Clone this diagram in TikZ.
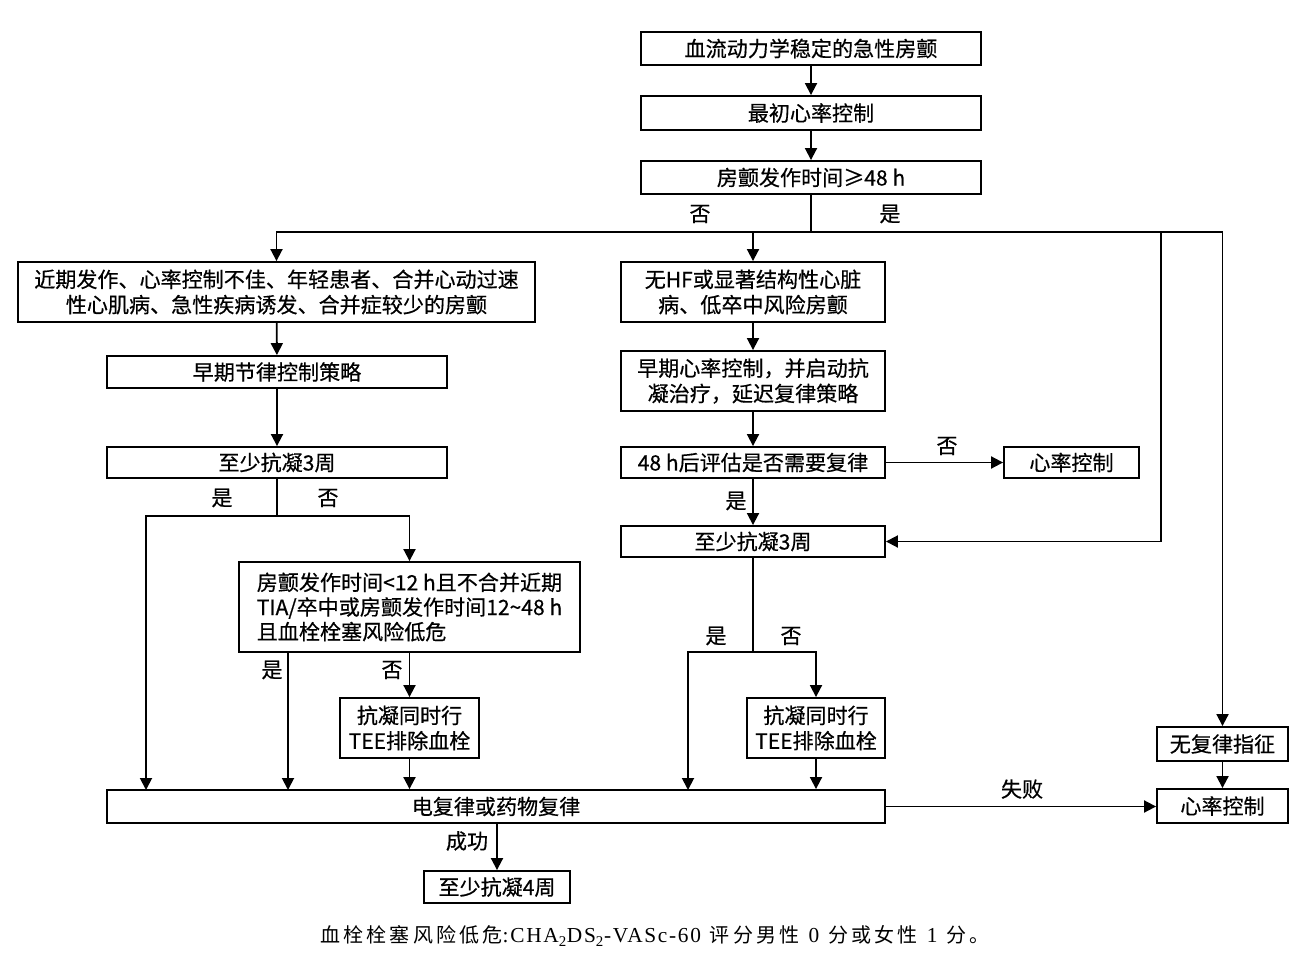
\documentclass[tikz,border=0pt]{standalone}
\usepackage{fontspec}
\setmainfont[FakeBold=0.5]{Noto Sans CJK SC}
\newfontfamily\capcjk[LetterSpace=16]{Noto Sans CJK SC}
\newfontfamily\capserif[LetterSpace=8]{Liberation Serif}
\usetikzlibrary{arrows.meta}
\tikzset{
  box/.style={draw, line width=1.4pt, inner sep=0pt, align=center, font=\fontsize{15.8}{19}\selectfont},
  lbl/.style={inner sep=0pt, font=\fontsize{15.8}{19}\selectfont},
  ln/.style={line width=1.4pt},
  arr/.style={line width=1.4pt, -{Triangle[length=9pt,width=9pt]}},
}
\newcommand\bx[7][]{\node[box,#1, minimum width={(#5-#3)*0.75pt}, minimum height={(#6-#4)*0.75pt}] (#2) at ({(#3+#5)/2},{(#4+#6)/2}) {#7};}
\newcommand\lat[1]{{\capserif\fontsize{16}{19}\selectfont #1}}
\begin{document}
\begin{tikzpicture}[x=0.75pt,y=-0.75pt]
\useasboundingbox (0,0) rectangle (1313,955);
% boxes
\bx{n1}{641}{32}{981}{65}{血流动力学稳定的急性房颤}
\bx{n2}{641}{96}{981}{130}{最初心率控制}
\bx{n3}{641}{161}{981}{194}{房颤发作时间≥48 h}
\bx{n4}{18}{262}{535}{322}{近期发作、心率控制不佳、年轻患者、合并心动过速\\性心肌病、急性疾病诱发、合并症较少的房颤}
\bx{n5}{107}{356}{447}{388}{早期节律控制策略}
\bx{n6}{107}{447}{447}{478}{至少抗凝3周}
\bx[align=left, font=\fontsize{15.8}{18.5}\selectfont]{n7}{239}{562}{580}{652}{房颤发作时间<12 h且不合并近期\\TIA/卒中或房颤发作时间12\textasciitilde 48 h\\且血栓栓塞风险低危}
\bx{n8}{340}{698}{479}{758}{抗凝同时行\\TEE排除血栓}
\bx{n9}{107}{790}{885}{823}{电复律或药物复律}
\bx{n10}{1157}{789}{1288}{823}{心率控制}
\bx{n11}{621}{262}{885}{322}{无HF或显著结构性心脏\\病、低卒中风险房颤}
\bx{n12}{621}{351}{885}{411}{早期心率控制，并启动抗\\凝治疗，延迟复律策略}
\bx{n13}{621}{447}{885}{478}{48 h后评估是否需要复律}
\bx{n14}{1004}{447}{1139}{478}{心率控制}
\bx{n15}{621}{526}{885}{557}{至少抗凝3周}
\bx{n18}{747}{698}{885}{758}{抗凝同时行\\TEE排除血栓}
\bx{n16}{1157}{727}{1288}{761}{无复律指征}
\bx{n19}{424}{871}{570}{903}{至少抗凝4周}
% coordinates
\coordinate (s1) at (811,232);
\coordinate (b1) at (1161,232);
\coordinate (s2) at (277,516);
\coordinate (e1) at (146,790);
\coordinate (e2) at (288,790);
\coordinate (s3) at (753,652);
\coordinate (e3) at (688,790);
% connectors
\draw[arr] (n1) -- (n2);
\draw[arr] (n2) -- (n3);
\draw[ln] (n3) -- (s1);
\draw[arr] (s1) -| (n4);
\draw[arr] (s1) -| (n11);
\draw[arr] (s1) -| (n16);
\draw[arr] (b1) |- (n15);
\draw[arr] (n4) -- (n5);
\draw[arr] (n5) -- (n6);
\draw[ln] (n6) -- (s2);
\draw[arr] (s2) -| (e1);
\draw[arr] (s2) -| (n7);
\draw[arr] (n7.south -| e2) -- (e2);
\draw[arr] (n7) -- (n8);
\draw[arr] (n8) -- (n8 |- n9.north);
\draw[arr] (n11) -- (n12);
\draw[arr] (n12) -- (n13);
\draw[arr] (n13) -- (n14);
\draw[arr] (n13) -- (n15);
\draw[ln] (n15) -- (s3);
\draw[arr] (s3) -| (e3);
\draw[arr] (s3) -| (n18);
\draw[arr] (n18) -- (n18 |- n9.north);
\draw[arr] (n16) -- (n10);
\draw[arr] (n9.east) -- (n9.east -| n10.west);
\draw[arr] (n19 |- n9.south) -- (n19);
% labels
\node[lbl] (l1) at (700,214) {否};
\node[lbl] (l2) at (890,214) {是};
\node[lbl] (l3) at (222,498) {是};
\node[lbl] (l4) at (328,498) {否};
\node[lbl] (l5) at (272,670) {是};
\node[lbl] (l6) at (392,670) {否};
\node[lbl] (l7) at (947,446) {否};
\node[lbl] (l8) at (736,501) {是};
\node[lbl] (l9) at (716,636) {是};
\node[lbl] (l10) at (791,636) {否};
\node[lbl] (l11) at (1022,789) {失败};
\node[lbl] (l12) at (467,841) {成功};
% caption
\node[inner sep=0pt, font=\capcjk\fontsize{15}{18}\selectfont] (cap) at (655,936) {血栓栓塞风险低危\lat{:CHA\textsubscript{2}DS\textsubscript{2}-VASc-60}\hspace{0.45em}评分男性\hspace{0.45em}\lat{0}\hspace{0.45em}分或女性\hspace{0.45em}\lat{1}\hspace{0.45em}分。};
\end{tikzpicture}
\end{document}
